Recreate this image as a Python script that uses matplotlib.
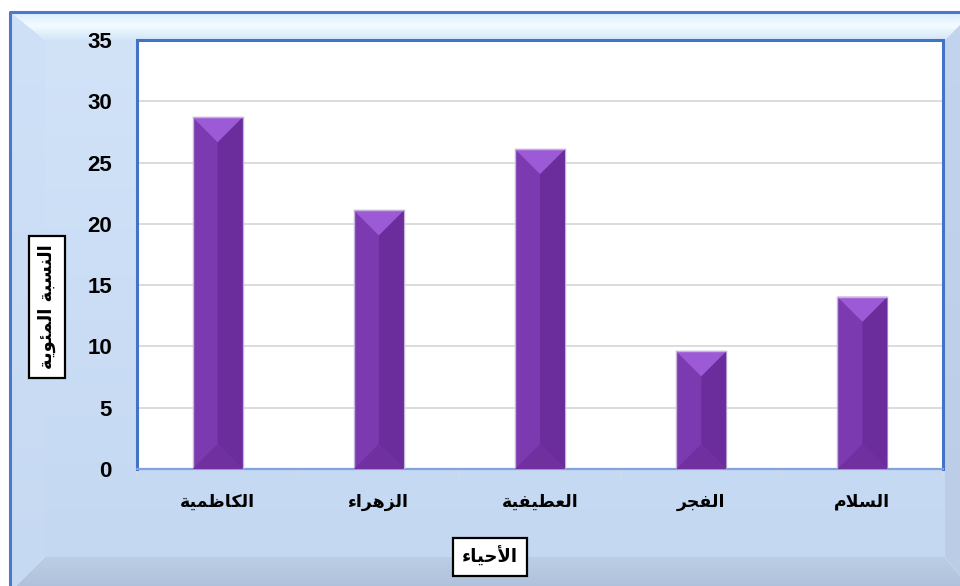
import numpy as np
import matplotlib
matplotlib.use("Agg")
import matplotlib.pyplot as plt
from matplotlib.patches import Polygon
from matplotlib.colors import LinearSegmentedColormap

# ---------------- data ----------------
categories = ["الكاظمية", "الزهراء", "العطيفية", "الفجر", "السلام"]
values = [28.7, 21.1, 26.1, 9.6, 14.05]
y_ticks = [0, 5, 10, 15, 20, 25, 30, 35]
x_title = "الأحياء"
y_title = "النسبة المئوية"

# ---------------- minimal Arabic shaping ----------------
_SEQ = [('ء', 0xFE80, 1), ('آ', 0xFE81, 2), ('أ', 0xFE83, 2), ('ؤ', 0xFE85, 2),
        ('إ', 0xFE87, 2), ('ئ', 0xFE89, 4), ('ا', 0xFE8D, 2), ('ب', 0xFE8F, 4),
        ('ة', 0xFE93, 2), ('ت', 0xFE95, 4), ('ث', 0xFE99, 4), ('ج', 0xFE9D, 4),
        ('ح', 0xFEA1, 4), ('خ', 0xFEA5, 4), ('د', 0xFEA9, 2), ('ذ', 0xFEAB, 2),
        ('ر', 0xFEAD, 2), ('ز', 0xFEAF, 2), ('س', 0xFEB1, 4), ('ش', 0xFEB5, 4),
        ('ص', 0xFEB9, 4), ('ض', 0xFEBD, 4), ('ط', 0xFEC1, 4), ('ظ', 0xFEC5, 4),
        ('ع', 0xFEC9, 4), ('غ', 0xFECD, 4), ('ف', 0xFED1, 4), ('ق', 0xFED5, 4),
        ('ك', 0xFED9, 4), ('ل', 0xFEDD, 4), ('م', 0xFEE1, 4), ('ن', 0xFEE5, 4),
        ('ه', 0xFEE9, 4), ('و', 0xFEED, 2), ('ى', 0xFEEF, 2), ('ي', 0xFEF1, 4)]
_FORMS = {c: (b, n) for c, b, n in _SEQ}
_LIG = {'لآ': 0xFEF5, 'لأ': 0xFEF7, 'لإ': 0xFEF9, 'لا': 0xFEFB}
for _k, _v in _LIG.items():
    _FORMS[chr(_v)] = (_v, 2)


def shape(text):
    for k, v in _LIG.items():
        text = text.replace(k, chr(v))
    out = []
    for i, c in enumerate(text):
        if c not in _FORMS:
            out.append(c)
            continue
        base, n = _FORMS[c]
        prev = text[i - 1] if i > 0 else None
        nxt = text[i + 1] if i + 1 < len(text) else None
        jp = prev is not None and prev in _FORMS and _FORMS[prev][1] == 4 and n >= 2
        jn = n == 4 and nxt is not None and nxt in _FORMS and _FORMS[nxt][1] >= 2
        if jp and jn:
            idx = 3
        elif jp:
            idx = 1
        elif jn:
            idx = 2
        else:
            idx = 0
        out.append(chr(base + idx))
    return ''.join(reversed(out))


AR_FONT = ['DejaVu Sans']
NUM_FONT = ['Liberation Sans', 'DejaVu Sans']

W, H = 960, 586
fig = plt.figure(figsize=(W / 100, H / 100), dpi=100)
fig.patch.set_facecolor('white')

# ---------------- background frame ----------------
bg = fig.add_axes([0, 0, 1, 1], zorder=-10)
bg.set_xlim(0, W)
bg.set_ylim(H, 0)
bg.axis('off')

ox0, oy0, ox1, oy1 = 10, 12, 973, 592
ix0, iy0, ix1, iy1 = 45, 40, 945, 557


def grad_poly(pts, colors, vertical=True):
    poly = Polygon(pts, closed=True, facecolor='none', edgecolor='none')
    bg.add_patch(poly)
    cmap = LinearSegmentedColormap.from_list('g', colors)
    xs = [p[0] for p in pts]
    ys = [p[1] for p in pts]
    g = np.linspace(0, 1, 256)
    img = g[:, None] if vertical else g[None, :]
    im = bg.imshow(img, cmap=cmap, aspect='auto',
                   extent=(min(xs), max(xs), max(ys), min(ys)),
                   interpolation='bilinear', zorder=1)
    im.set_clip_path(poly)


# inner panel
grad_poly([(ix0, iy0), (ix1, iy0), (ix1, iy1), (ix0, iy1)], ['#D2E3F8', '#C4D8F2'])
# top bevel
grad_poly([(ox0, oy0), (ox1, oy0), (ix1, iy0), (ix0, iy0)],
          ['#D8ECFD', '#F3FCFF', '#D2E5F8'])
# left bevel
grad_poly([(ox0, oy0), (ix0, iy0), (ix0, iy1), (ox0, oy1)], ['#CFE1F7', '#C6D9F2'])
# right bevel
grad_poly([(ox1, oy0), (ox1, oy1), (ix1, iy1), (ix1, iy0)], ['#C3D5EE', '#BACCE6'])
# bottom bevel
grad_poly([(ox0, oy1), (ix0, iy1), (ix1, iy1), (ox1, oy1)], ['#BCCDE6', '#AEBFD9'])
bg.plot([ox0, ox0, ox1], [oy1, oy0, oy0], color='#4A78CC', lw=2.2, zorder=5,
        solid_capstyle='butt')

# ---------------- main axes ----------------
ax = fig.add_axes([137 / W, (H - 469) / H, 806 / W, 429 / H])
ax.set_facecolor('white')
ax.set_xlim(-0.5, len(categories) - 0.5)
ax.set_ylim(0, 35)
ax.set_yticks(y_ticks)
ax.yaxis.grid(True, color='#D9D9D9', lw=1.3, zorder=0)
ax.set_axisbelow(True)

for s in ['top', 'left', 'right']:
    ax.spines[s].set_color('#4472C4')
    ax.spines[s].set_linewidth(2.2)
ax.spines['bottom'].set_color('#7FA3DA')
ax.spines['bottom'].set_linewidth(1.6)

ax.tick_params(axis='y', length=0, pad=18, labelsize=16)
for lab in ax.get_yticklabels():
    lab.set_fontfamily(NUM_FONT)
    lab.set_fontweight('bold')

xpos = np.arange(len(categories))
ax.set_xticks(xpos)
ax.set_xticklabels([shape(c) for c in categories], fontfamily=AR_FONT,
                   fontweight='bold', fontsize=12.5)
ax.tick_params(axis='x', which='major', length=0, pad=17)
ax.set_xticks(np.arange(len(categories) + 1) - 0.5, minor=True)
ax.tick_params(axis='x', which='minor', length=6, color='#D4DCE6', width=1.2)

# ---------------- bars with bevel ----------------
bw = 0.31
fig.canvas.draw()
p0 = ax.transData.transform((0, 0))
p1 = ax.transData.transform((bw / 2, 1))
half_px = p1[0] - p0[0]
px_per_unit = p1[1] - p0[1]
d = half_px / px_per_unit

bars = ax.bar(xpos, values, width=bw, color='#7B3AAF', edgecolor='#C7B4DA',
              linewidth=1.0, zorder=3)
for b in bars:
    x0 = b.get_x()
    x1 = x0 + b.get_width()
    xc = (x0 + x1) / 2
    v = b.get_height()
    # right face
    ax.add_patch(Polygon([(xc, v - d), (x1, v), (x1, 0), (xc, d)], closed=True,
                         facecolor='#6C2D9C', edgecolor='none', zorder=4))
    # bottom face
    ax.add_patch(Polygon([(x0, 0), (x1, 0), (xc, d)], closed=True,
                         facecolor='#71309F', edgecolor='none', zorder=4))
    # top face
    ax.add_patch(Polygon([(x0, v), (x1, v), (xc, v - d)], closed=True,
                         facecolor='#9D5AD6', edgecolor='none', zorder=4))
    ax.plot([x0, x1], [v, v], color='#C7B4DA', lw=1.0, zorder=5)

# ---------------- axis titles in boxes ----------------
box = dict(boxstyle='square,pad=0.5', facecolor='white', edgecolor='black', lw=1.6)
fig.text(47 / W, 1 - 307 / H, shape(y_title), rotation=90, ha='center', va='center',
         fontfamily=AR_FONT, fontweight='bold', fontsize=13, bbox=box)
fig.text(490 / W, 1 - 557 / H, shape(x_title), ha='center', va='center',
         fontfamily=AR_FONT, fontweight='bold', fontsize=13, bbox=box)

fig.savefig('out.png', dpi=100)
